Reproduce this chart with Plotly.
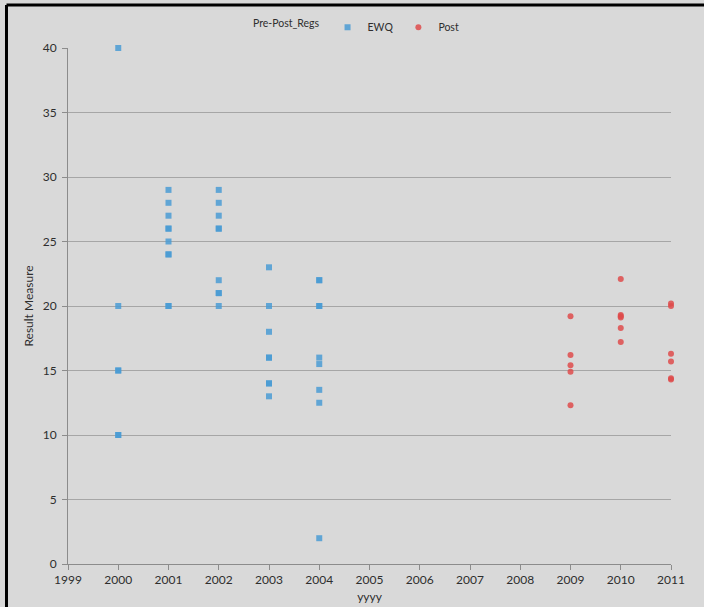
import plotly.graph_objects as go

ewq_years = [2000, 2000, 2000, 2000, 2000, 2000,
             2001, 2001, 2001, 2001, 2001, 2001, 2001, 2001, 2001, 2001,
             2002, 2002, 2002, 2002, 2002, 2002, 2002, 2002, 2002,
             2003, 2003, 2003, 2003, 2003, 2003, 2003, 2003,
             2004, 2004, 2004, 2004, 2004, 2004, 2004, 2004, 2004]
ewq_values = [40, 20, 15, 15, 10, 10,
              29, 28, 27, 26, 26, 25, 24, 24, 20, 20,
              29, 28, 27, 26, 26, 22, 21, 21, 20,
              23, 20, 18, 16, 16, 14, 14, 13,
              22, 22, 20, 20, 16, 15.5, 13.5, 12.5, 2]

post_years = [2009, 2009, 2009, 2009, 2009,
              2010, 2010, 2010, 2010, 2010, 2010,
              2011, 2011, 2011, 2011, 2011, 2011]
post_values = [19.2, 16.2, 15.4, 14.9, 12.3,
               22.1, 19.3, 19.2, 19.1, 18.3, 17.2,
               20.2, 20.0, 16.3, 15.7, 14.4, 14.3]

x_ticks = list(range(1999, 2012))
y_ticks = [0, 5, 10, 15, 20, 25, 30, 35, 40]

font = "Lato, 'Open Sans', sans-serif"

fig = go.Figure()
fig.add_trace(go.Scatter(
    x=ewq_years, y=ewq_values, mode="markers", name="EWQ", cliponaxis=False,
    marker=dict(symbol="square", size=6, color="#4a9bd3", opacity=0.85),
))
fig.add_trace(go.Scatter(
    x=post_years, y=post_values, mode="markers", name="Post", cliponaxis=False,
    marker=dict(symbol="circle", size=6, color="#de4b4b", opacity=0.85),
))

fig.update_layout(
    width=704, height=607,
    paper_bgcolor="#d9d9d9", plot_bgcolor="#d9d9d9",
    margin=dict(l=68, r=33, t=48, b=43, autoexpand=False),
    font=dict(family=font, size=12, color="#2e2e2e"),
    legend=dict(
        orientation="h", x=0.48, xanchor="center", y=1.04, yanchor="middle",
        title=dict(text="Pre-Post_Regs", side="left", font=dict(size=10.5)),
        font=dict(size=10.5), bgcolor="rgba(0,0,0,0)", itemwidth=30,
        tracegroupgap=0,
    ),
    xaxis=dict(
        range=[1999, 2011], tickvals=x_ticks, ticktext=[str(v) for v in x_ticks],
        showgrid=False, zeroline=False, showline=True, linecolor="#8c8c8c",
        linewidth=1, ticks="outside", ticklen=5, tickcolor="#8c8c8c",
        automargin=False,
        title=dict(text="yyyy", standoff=6, font=dict(size=12)),
    ),
    yaxis=dict(
        range=[0, 40], tickvals=y_ticks, showgrid=True, gridcolor="#a6a6a6",
        gridwidth=1, zeroline=False, showline=True, linecolor="#8c8c8c",
        linewidth=1, ticks="outside", ticklen=5, tickcolor="#8c8c8c",
        automargin=False, ticklabelstandoff=3,
        title=dict(text="Result Measure", standoff=6, font=dict(size=12)),
    ),
    shapes=[
        dict(type="line", xref="paper", yref="paper", x0=-0.102, x1=1.06,
             y0=1.0833, y1=1.0833, line=dict(color="black", width=3)),
        dict(type="line", xref="paper", yref="paper", x0=-0.102, x1=-0.102,
             y0=1.0833, y1=-0.09, line=dict(color="black", width=3)),
    ],
)

fig.write_html(
    "out.html",
    config={"displayModeBar": False},
    post_script=("document.body.style.margin='0px';"
                 "document.body.style.overflow='hidden';"
                 "document.documentElement.style.overflow='hidden';"),
)
